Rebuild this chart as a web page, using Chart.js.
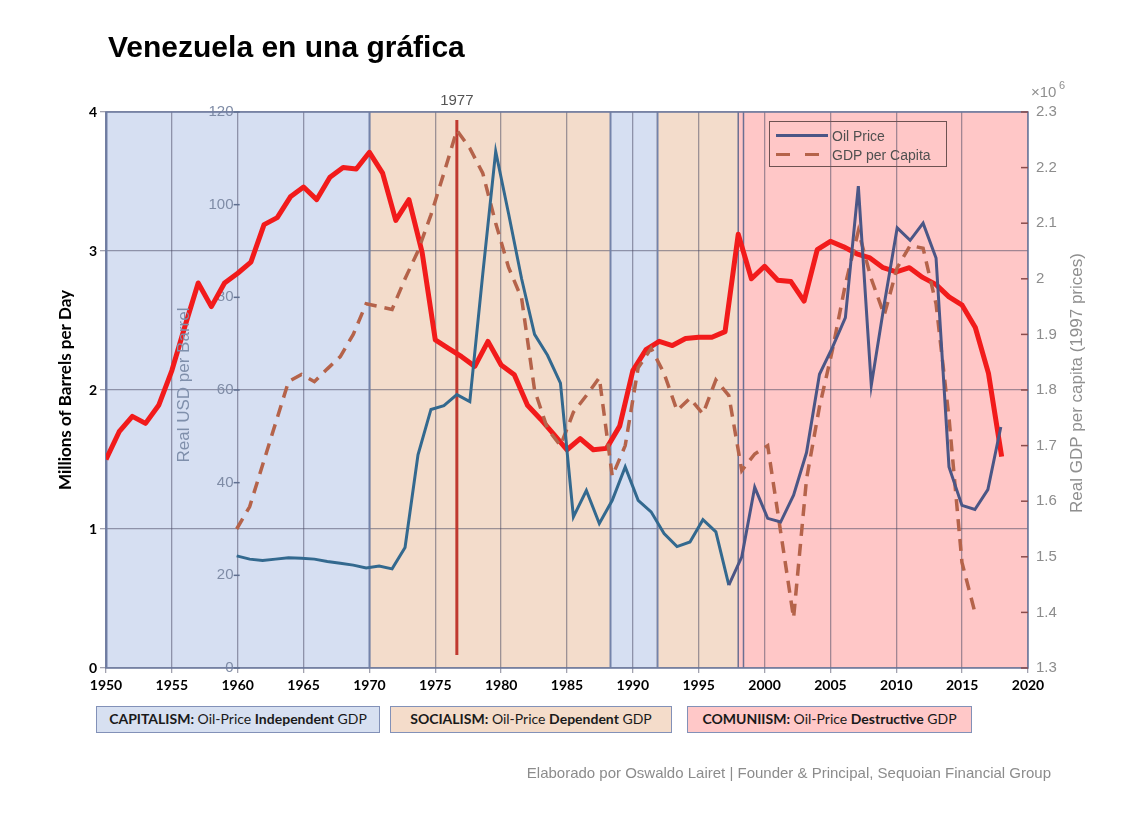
<!DOCTYPE html>
<html>
<head>
<meta charset="utf-8">
<script src="https://cdn.jsdelivr.net/npm/chart.js@4.4.1/dist/chart.umd.min.js"></script>
<style>
  body { margin: 0; width: 1123px; height: 819px; background: #fff; position: relative; overflow: hidden; font-family: "Liberation Sans", Arial, sans-serif; }
  #chart { position: absolute; left: 0; top: 0; }
  h1 { position: absolute; left: 108px; top: 30px; margin: 0; font-size: 30px; line-height: 34px; font-weight: bold; color: #000; }
  .era { position: absolute; top: 706px; height: 27px; box-sizing: border-box; border: 1.5px solid #8291b8; font-family: Lato, sans-serif; font-size: 14px; line-height: 24px; text-align: center; color: #1a1a1a; }
  .era b { font-weight: bold; }
  #legend { position: absolute; left: 769px; top: 121px; width: 178px; height: 46px; box-sizing: border-box; border: 1.5px solid #6e5252; font-size: 14px; color: #505050; }
  #legend .row { position: absolute; left: 62px; height: 18px; line-height: 18px; }
  #legend .sw { position: absolute; left: -56px; top: 7px; width: 52px; height: 3px; }
  #legend .solid { background: #4b5686; }
  #legend .dash { background: repeating-linear-gradient(90deg, #b5634a 0 14px, transparent 14px 29px); }
  #footer { position: absolute; right: 72px; top: 764px; font-size: 15px; color: #8c8c8c; }
</style>
</head>
<body>
<canvas id="chart" width="1123" height="819"></canvas>
<h1>Venezuela en una gráfica</h1>
<div id="legend">
  <div class="row" style="top:5px"><span class="sw solid"></span>Oil Price</div>
  <div class="row" style="top:24px"><span class="sw dash"></span>GDP per Capita</div>
</div>
<div class="era" style="left:96px; width:284px; background:#d7e0f1;"><b>CAPITALISM:</b> Oil-Price <b>Independent</b> GDP</div>
<div class="era" style="left:390px; width:282px; background:#f4dcca;"><b>SOCIALISM:</b> Oil-Price <b>Dependent</b> GDP</div>
<div class="era" style="left:687px; width:285px; background:#ffc8c8;"><b>COMUNIISM:</b> Oil-Price <b>Destructive</b> GDP</div>
<div id="footer">Elaborado por Oswaldo Lairet | Founder &amp; Principal, Sequoian Financial Group</div>
<script>
// oil production, millions of barrels per day (Excel layer)
const prodYears = [1950, 1951, 1952, 1953, 1954, 1955, 1956, 1957, 1958, 1959,
  1960, 1961, 1962, 1963, 1964, 1965, 1966, 1967, 1968, 1969,
  1970, 1971, 1972, 1973, 1974, 1975, 1976, 1977, 1978, 1979,
  1980, 1981, 1982, 1983, 1984, 1985, 1986, 1987, 1988, 1989,
  1990, 1991, 1992, 1993, 1994, 1995, 1996, 1997, 1998, 1999,
  2000, 2001, 2002, 2003, 2004, 2005, 2006, 2007, 2008, 2009,
  2010, 2011, 2012, 2013, 2014, 2015, 2016, 2017, 2018];
const production = [1.50, 1.70, 1.81, 1.76, 1.89, 2.14, 2.46, 2.77, 2.60, 2.77,
  2.84, 2.92, 3.19, 3.24, 3.39, 3.46, 3.37, 3.53, 3.60, 3.59,
  3.71, 3.56, 3.22, 3.37, 2.99, 2.36, 2.30, 2.24, 2.17, 2.35,
  2.18, 2.11, 1.89, 1.79, 1.68, 1.57, 1.65, 1.57, 1.58, 1.74,
  2.14, 2.29, 2.35, 2.32, 2.37, 2.38, 2.38, 2.42, 3.12, 2.80,
  2.89, 2.79, 2.78, 2.64, 3.01, 3.07, 3.03, 2.98, 2.95, 2.88,
  2.85, 2.88, 2.81, 2.76, 2.67, 2.61, 2.45, 2.12, 1.52];

// real oil price, USD per barrel (overlaid layer)
const oilYears = [1960, 1961, 1962, 1963, 1964, 1965, 1966, 1967, 1968, 1969,
  1970, 1971, 1972, 1973, 1974, 1975, 1976, 1977, 1978, 1979,
  1980, 1981, 1982, 1983, 1984, 1985, 1986, 1987, 1988, 1989,
  1990, 1991, 1992, 1993, 1994, 1995, 1996, 1997, 1998, 1999,
  2000, 2001, 2002, 2003, 2004, 2005, 2006, 2007, 2008, 2009,
  2010, 2011, 2012, 2013, 2014, 2015, 2016, 2017, 2018, 2019];
const oilPrice = [24.2, 23.5, 23.2, 23.5, 23.8, 23.7, 23.5, 23.0, 22.6, 22.2,
  21.6, 22.0, 21.4, 26.0, 46.0, 55.8, 56.6, 59.0, 57.5, 85.0,
  111.5, 98.0, 84.0, 72.0, 67.5, 61.5, 32.6, 38.3, 31.2, 36.2,
  43.4, 36.2, 33.7, 29.0, 26.2, 27.2, 32.0, 29.4, 17.9, 24.0,
  39.0, 32.3, 31.5, 37.3, 46.5, 63.4, 69.2, 75.6, 104.0, 61.0,
  78.5, 95.0, 92.3, 96.0, 88.5, 43.4, 35.1, 34.2, 38.5, 52.0];

// real GDP per capita, x10^6 (1997 prices)
const gdpYears = [1960, 1961, 1962, 1963, 1964, 1965, 1966, 1967, 1968, 1969,
  1970, 1971, 1972, 1973, 1974, 1975, 1976, 1977, 1978, 1979,
  1980, 1981, 1982, 1983, 1984, 1985, 1986, 1987, 1988, 1989,
  1990, 1991, 1992, 1993, 1994, 1995, 1996, 1997, 1998, 1999,
  2000, 2001, 2002, 2003, 2004, 2005, 2006, 2007, 2008, 2009,
  2010, 2011, 2012, 2013, 2014, 2015, 2016, 2017];
const gdpPerCapita = [1.550, 1.590, 1.665, 1.740, 1.815, 1.828, 1.815, 1.838, 1.860, 1.900,
  1.955, 1.950, 1.945, 2.000, 2.050, 2.115, 2.190, 2.267, 2.235, 2.190,
  2.100, 2.020, 1.965, 1.800, 1.730, 1.700, 1.760, 1.790, 1.822, 1.645,
  1.700, 1.840, 1.875, 1.830, 1.763, 1.785, 1.757, 1.818, 1.790, 1.655,
  1.685, 1.700, 1.545, 1.390, 1.640, 1.770, 1.872, 1.990, 2.086, 2.000,
  1.935, 2.020, 2.060, 2.055, 1.955, 1.750, 1.490, 1.400];

// political eras shaded behind the plot
const eraStarts = [1950, 1970, 1988.3, 1991.8, 1998.0];
const eraEnds = [1970, 1988.3, 1991.8, 1998.0, 2020];
const eraKinds = ['cap', 'soc', 'cap', 'soc', 'com'];
const markYear = 1977;

const eraFill = { cap: '#d6dff2', soc: '#f3dccb', com: '#ffc7c7' };
const gridCol = 'rgba(70,70,95,0.5)';

const pts = (xs, ys) => xs.map((x, i) => ({ x: x, y: ys[i] }));

const overlay = {
  id: 'overlay',
  beforeDraw(chart) {
    const { ctx, chartArea: a, scales: { x } } = chart;
    ctx.save();
    eraStarts.forEach((s, i) => {
      const x0 = x.getPixelForValue(s);
      const x1 = x.getPixelForValue(eraEnds[i]);
      ctx.fillStyle = eraFill[eraKinds[i]];
      ctx.fillRect(x0, a.top, x1 - x0, a.bottom - a.top);
    });
    ctx.restore();
  },
  beforeDatasetsDraw(chart) {
    const { ctx, chartArea: a, scales: { x, x2 } } = chart;
    ctx.save();
    // borders round the capitalism blocks, double line at the start of the last era
    ctx.strokeStyle = '#7483aa';
    ctx.lineWidth = 2;
    eraStarts.forEach((s, i) => {
      if (eraKinds[i] !== 'cap') return;
      [s, eraEnds[i]].forEach(v => {
        const px = Math.round(x.getPixelForValue(v)) + 0.5;
        ctx.beginPath(); ctx.moveTo(px, a.top); ctx.lineTo(px, a.bottom); ctx.stroke();
      });
    });
    ctx.strokeStyle = '#6c6f92';
    ctx.lineWidth = 1.5;
    [1998.0, 1998.4].forEach(v => {
      const px = x.getPixelForValue(v);
      ctx.beginPath(); ctx.moveTo(px, a.top); ctx.lineTo(px, a.bottom); ctx.stroke();
    });
    // frame
    ctx.strokeStyle = '#6d7ba0';
    ctx.lineWidth = 1.5;
    ctx.strokeRect(a.left, a.top, a.right - a.left, a.bottom - a.top);
    // 1977 marker
    const mx = x2.getPixelForValue(markYear);
    ctx.strokeStyle = '#c0392f';
    ctx.lineWidth = 3;
    ctx.beginPath(); ctx.moveTo(mx, a.top + 8); ctx.lineTo(mx, a.bottom - 13); ctx.stroke();
    ctx.restore();
  },
  afterDraw(chart) {
    const { ctx, chartArea: a, scales: { x2, yOil, yGdp } } = chart;
    ctx.save();
    ctx.font = '15px "Liberation Sans", Arial, sans-serif';
    ctx.fillStyle = '#555';
    ctx.textAlign = 'center';
    ctx.textBaseline = 'middle';
    ctx.fillText(String(markYear), x2.getPixelForValue(markYear), a.top - 11);

    // oil axis tick marks crossing the 1960 line
    const ox = x2.getPixelForValue(1960);
    ctx.strokeStyle = '#5f6f90';
    ctx.lineWidth = 1.5;
    yOil.ticks.forEach(t => {
      const py = yOil.getPixelForValue(t.value);
      ctx.beginPath(); ctx.moveTo(ox - 3, py); ctx.lineTo(ox + 3, py); ctx.stroke();
    });
    // inward ticks on the GDP axis
    ctx.strokeStyle = '#8a4c4c';
    yGdp.ticks.forEach(t => {
      const py = yGdp.getPixelForValue(t.value);
      ctx.beginPath(); ctx.moveTo(a.right - 7, py); ctx.lineTo(a.right, py); ctx.stroke();
    });

    // axis titles of the overlaid layer
    ctx.font = '17px "Liberation Sans", Arial, sans-serif';
    ctx.fillStyle = '#7f8fab';
    ctx.save();
    ctx.translate(ox - 52, (a.top + a.bottom) / 2 - 5);
    ctx.rotate(-Math.PI / 2);
    ctx.fillText('Real USD per Barrel', 0, 0);
    ctx.restore();
    ctx.fillStyle = '#8f8f8f';
    ctx.save();
    ctx.translate(a.right + 49, (a.top + a.bottom) / 2 - 7);
    ctx.rotate(-Math.PI / 2);
    ctx.fillText('Real GDP per capita (1997 prices)', 0, 0);
    ctx.restore();
    ctx.textAlign = 'left';
    ctx.font = '15px "Liberation Sans", Arial, sans-serif';
    ctx.fillText('\u00d710', a.right + 3, a.top - 19);
    ctx.font = '11px "Liberation Sans", Arial, sans-serif';
    ctx.fillText('6', a.right + 31, a.top - 26);
    ctx.restore();
  }
};

new Chart(document.getElementById('chart'), {
  type: 'line',
  data: {
    datasets: [
      {
        label: 'Oil Price',
        data: pts(oilYears, oilPrice),
        xAxisID: 'x2', yAxisID: 'yOil',
        borderColor: '#33698f',
        segment: { borderColor: c => c.p0.parsed.x >= 1998 ? '#4b5686' : '#33698f' },
        borderWidth: 3, pointRadius: 0, tension: 0
      },
      {
        label: 'GDP per Capita',
        data: pts(gdpYears, gdpPerCapita),
        xAxisID: 'x2', yAxisID: 'yGdp',
        borderColor: '#b5634a', borderDash: [12, 8],
        borderWidth: 3.5, pointRadius: 0, tension: 0
      },
      {
        label: 'Production',
        data: pts(prodYears, production),
        xAxisID: 'x', yAxisID: 'y',
        borderColor: '#f21b1b', borderWidth: 5,
        pointRadius: 0, tension: 0, borderJoinStyle: 'round'
      }
    ]
  },
  options: {
    responsive: false,
    animation: false,
    devicePixelRatio: 1,
    layout: { padding: { left: 50, top: 112, right: 37, bottom: 111 } },
    plugins: { legend: { display: false }, tooltip: { enabled: false } },
    scales: {
      x: {
        type: 'linear', position: 'bottom', min: 1950, max: 2020,
        afterFit: s => { s.height = 40; },
        ticks: { stepSize: 5, color: '#000', padding: 4, font: { family: 'Lato', weight: 'bold', size: 14 }, callback: v => String(v) },
        grid: { color: gridCol, lineWidth: 1.3, tickLength: 5 },
        border: { display: false }
      },
      x2: { type: 'linear', display: false, min: 1949.91, max: 2021.1 },
      y: {
        position: 'left', min: 0, max: 4,
        afterFit: s => { s.width = 56; },
        ticks: { stepSize: 1, color: '#000', padding: 3, font: { family: 'Lato', weight: 'bold', size: 14 } },
        grid: { color: gridCol, lineWidth: 1.3, tickLength: 6 },
        border: { display: false },
        title: { display: true, text: 'Millions of Barrels per Day', color: '#000', padding: { top: 5, bottom: 0 }, font: { family: 'Lato', weight: 'bold', size: 17 } }
      },
      yOil: {
        position: { x: 1960 }, min: 0, max: 120,
        ticks: { stepSize: 20, color: '#7f8ca6', font: { family: 'Liberation Sans', size: 15 }, callback: v => v + ' ' },
        grid: { display: false },
        border: { display: false }
      },
      yGdp: {
        position: 'right', min: 1.3, max: 2.3,
        afterFit: s => { s.width = 58; },
        ticks: { stepSize: 0.1, color: '#8c8c8c', padding: 8, font: { family: 'Liberation Sans', size: 15 }, callback: v => String(Number(v.toFixed(1))) },
        grid: { display: false, drawTicks: false },
        border: { display: false }
      }
    }
  },
  plugins: [overlay]
});
</script>
</body>
</html>
